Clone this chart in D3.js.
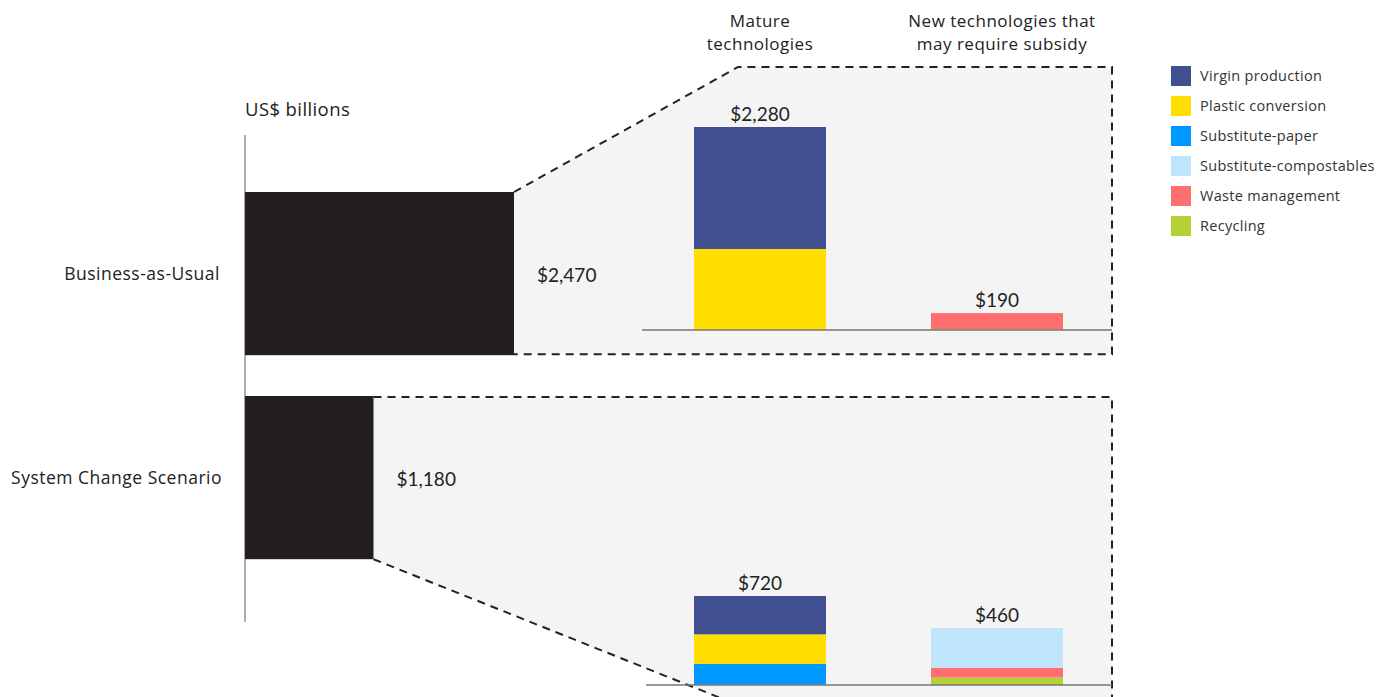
<!DOCTYPE html>
<html>
<head>
<meta charset="utf-8">
<script src="https://cdn.jsdelivr.net/npm/d3@7"></script>
<style>
  body { margin: 0; background: #fff; }
  svg { display: block; font-family: Lato, 'Open Sans', sans-serif; }
  .lbl { font-family: 'Open Sans', sans-serif; }
</style>
</head>
<body>
<svg width="1376" height="697"></svg>
<script>
// scenario totals
var scenarios = ['Business-as-Usual', 'System Change Scenario']
var totals = [2470, 1180]

// cost groups & components
var groups = ['Mature technologies', 'New technologies that may require subsidy']
var groupLines = [['Mature', 'technologies'], ['New technologies that', 'may require subsidy']]
var components = ['Virgin production', 'Plastic conversion', 'Substitute-paper', 'Substitute-compostables', 'Waste management', 'Recycling']
var colors = ['#3f4f8f', '#ffdf00', '#0099ff', '#bfe5fc', '#ff6f6f', '#b2d235']

// values per component, stacked bottom-up in order recycling -> virgin
var bauMature = [1370, 910, 0, 0, 0, 0]
var bauNew = [0, 0, 0, 0, 180, 10]
var scsMature = [310, 240, 170, 0, 0, 0]
var scsNew = [0, 0, 0, 320, 80, 60]
var groupTotals = [[2280, 190], [720, 460]]

var svg = d3.select('svg')
var dark = '#231f20'
var grey = '#f4f4f4'

var x = d3.scaleLinear().domain([0, 2470]).range([245, 514])
var y = d3.scaleBand().domain(scenarios).range([151.2, 600]).paddingInner(0.2).paddingOuter(0.2)

var gx = d3.scaleBand().domain(groups).range([694, 1063]).paddingInner(0.443).paddingOuter(0)
var yTop = d3.scaleLinear().domain([0, 2280]).range([330, 127])
var yBot = d3.scaleLinear().domain([0, 720]).range([685, 596])

var fmt = d => '$' + d3.format(',')(d)

// grey zoom panels
var bauEnd = x(totals[0]), scsEnd = x(totals[1])
var b0 = y(scenarios[0]), b1 = y(scenarios[1]), bw = y.bandwidth()
var right = 1112

svg.append('path')
  .attr('d', d3.line()([[bauEnd, b0], [738, 67], [right, 67], [right, b0 + bw - 1], [bauEnd, b0 + bw - 1]]) + 'Z')
  .attr('fill', grey)
svg.append('path')
  .attr('d', d3.line()([[scsEnd, b1 + 1], [right, b1 + 1], [right, 720], [scsEnd + (720 - b1 - bw) / 0.4, 720], [scsEnd, b1 + bw]]) + 'Z')
  .attr('fill', grey)

var dash = g => g.attr('fill', 'none').attr('stroke', '#222').attr('stroke-width', 2).attr('stroke-dasharray', '8,6')
svg.append('path').call(dash)
  .attr('d', d3.line()([[bauEnd, b0], [738, 67], [right, 67], [right, b0 + bw - 1], [bauEnd, b0 + bw - 1]]))
svg.append('path').call(dash)
  .attr('d', d3.line()([[scsEnd, b1 + 1], [right, b1 + 1], [right, 720]]))
svg.append('path').call(dash)
  .attr('d', d3.line()([[scsEnd, b1 + bw], [scsEnd + (760 - b1 - bw) / 0.4, 760]]))

// left axis & scenario bars
svg.append('line').attr('x1', 245).attr('x2', 245).attr('y1', 135).attr('y2', 622)
  .attr('stroke', '#777').attr('stroke-width', 1.2)
svg.append('text').attr('class', 'lbl').attr('x', 245).attr('y', 116)
  .attr('font-size', 18.5).attr('letter-spacing', 0.4).attr('fill', '#222').text('US$ billions')

svg.append('g').selectAll('rect').data(scenarios).join('rect')
  .attr('x', x(0)).attr('y', d => y(d))
  .attr('width', (d, i) => x(totals[i]) - x(0)).attr('height', bw)
  .attr('fill', dark)

svg.append('g').selectAll('text').data(scenarios).join('text')
  .attr('class', 'lbl')
  .attr('x', (d, i) => i === 0 ? 220 : 222).attr('y', d => y(d) + bw / 2 + 6)
  .attr('text-anchor', 'end').attr('font-size', 17.5).attr('letter-spacing', 0.5)
  .attr('fill', '#222').text(d => d)

svg.append('g').selectAll('text').data(totals).join('text')
  .attr('x', d => x(d) + 23).attr('y', (d, i) => y(scenarios[i]) + bw / 2 + 8)
  .attr('font-size', 19).attr('fill', '#222').text(fmt)

// group headers
groupLines.forEach((lines, i) => {
  var cx = gx(groups[i]) + gx.bandwidth() / 2 + (i === 0 ? 0 : 5)
  svg.append('text').attr('class', 'lbl').attr('y', 27)
    .attr('text-anchor', 'middle').attr('font-size', 17).attr('letter-spacing', 0.5).attr('fill', '#222')
    .selectAll('tspan').data(lines).join('tspan')
    .attr('x', cx).attr('dy', (d, j) => j === 0 ? 0 : 23).text(d => d)
})

// stacked bars
var drawStack = (vals, group, ys) => {
  var g = svg.append('g')
  var acc = 0
  var order = [5, 4, 3, 2, 1, 0]
  order.forEach(k => {
    var v = vals[k]
    if (!v) return
    g.append('rect')
      .attr('x', gx(group)).attr('width', gx.bandwidth())
      .attr('y', ys(acc + v)).attr('height', ys(acc) - ys(acc + v))
      .attr('fill', colors[k])
    acc += v
  })
}

drawStack(bauMature, groups[0], yTop)
drawStack(bauNew, groups[1], yTop)
drawStack(scsMature, groups[0], yBot)
drawStack(scsNew, groups[1], yBot)

// baselines
svg.append('line').attr('x1', 642).attr('x2', right).attr('y1', yTop(0)).attr('y2', yTop(0))
  .attr('stroke', '#777').attr('stroke-width', 1.5)
svg.append('line').attr('x1', 646).attr('x2', right).attr('y1', yBot(0)).attr('y2', yBot(0))
  .attr('stroke', '#777').attr('stroke-width', 1.5)

// totals above stacks
var scales = [yTop, yBot]
groupTotals.forEach((row, s) => {
  row.forEach((v, i) => {
    svg.append('text')
      .attr('x', gx(groups[i]) + gx.bandwidth() / 2).attr('y', scales[s](v) - 6)
      .attr('text-anchor', 'middle').attr('font-size', 19).attr('fill', '#222').text(fmt(v))
  })
})

// legend
var legend = svg.append('g').selectAll('g').data(components).join('g')
  .attr('transform', (d, i) => `translate(1171, ${66 + i * 30})`)
legend.append('rect').attr('width', 20).attr('height', 20).attr('fill', (d, i) => colors[i])
legend.append('text').attr('class', 'lbl').attr('x', 29).attr('y', 15)
  .attr('font-size', 14.5).attr('letter-spacing', 0.3).attr('fill', '#333').text(d => d)
</script>
</body>
</html>
